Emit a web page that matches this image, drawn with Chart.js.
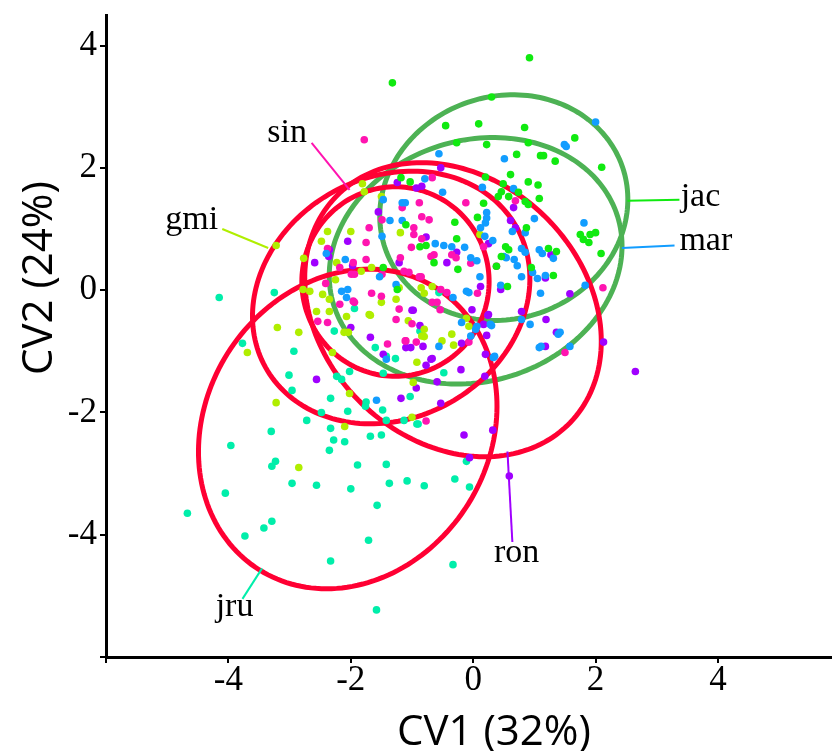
<!DOCTYPE html>
<html>
<head>
<meta charset="utf-8">
<script src="https://cdn.jsdelivr.net/npm/chart.js@4.4.1/dist/chart.umd.min.js"></script>
<style>
  html, body { margin: 0; padding: 0; background: #fff; }
  #wrap { width: 835px; height: 751px; }
</style>
</head>
<body>
<div id="wrap"><canvas id="cvaChart" width="835" height="751"></canvas></div>
<script>
// canonical variate scores, [CV1, CV2] per specimen
const jacPoints = [
  [-1.32,3.39],[0.92,3.8],[0.3,3.16],[-0.45,2.69],[0.09,2.72],[0.84,2.66],[-0.27,2.41],[0.22,2.38],
  [0.9,2.41],[1.66,2.49],[0.71,2.22],[1.1,2.2],[1.15,2.2],[1.34,2.11],[2.1,2.01],[0.2,1.85],
  [0.61,1.89],[0.49,1.74],[0.9,1.77],[1.06,1.72],[0.46,1.61],[0.41,1.53],[0.58,1.53],[0.74,1.6],
  [1.08,1.5],[0.85,1.45],[0.9,1.4],[0.17,1.42],[-0.3,1.11],[0.07,1.19],[0.87,1.02],[1.75,0.91],
  [1.8,0.83],[1.91,0.91],[2.0,0.94],[1.89,0.78],[2.09,0.6],[-0.27,0.84],[0.53,0.71],[0.58,0.66],
  [0.46,0.55],[0.38,0.39],[1.23,0.68],[1.36,0.63],[1.31,0.24],[0.95,0.37],[0.56,0.06],[-0.87,0.71],
  [-0.64,0.45],[-0.25,0.34],[-1.18,1.84],[-1.03,1.77],[-1.1,1.07],[-1.47,0.37],[-0.77,0.73],[-1.24,0.01]
];
const marPoints = [
  [2.0,2.75],[1.49,2.38],[1.52,2.35],[-0.56,2.23],[0.51,2.15],[0.15,1.68],[-0.5,1.6],[0.66,1.66],
  [0.22,1.27],[0.22,1.18],[0.2,1.1],[1.0,1.17],[1.81,1.1],[0.64,0.96],[0.85,0.94],[0.12,1.02],
  [0.19,0.88],[0.32,0.81],[-0.35,0.71],[-0.48,0.73],[-0.62,0.76],[-0.14,0.7],[-0.04,0.53],[0.06,0.48],
  [0.5,0.55],[0.54,0.53],[0.67,0.5],[0.79,0.68],[0.85,0.62],[1.08,0.66],[1.13,0.6],[1.31,0.52],
  [0.72,0.4],[0.97,0.29],[1.05,0.19],[1.18,0.24],[0.79,0.22],[0.11,0.22],[-0.11,-0.02],[-0.07,-0.04],
  [0.45,0.08],[1.1,-0.05],[1.83,0.08],[-0.79,1.82],[1.08,-0.94],[1.11,-0.92],[1.58,-0.92],[1.42,-0.69],
  [1.39,-0.72],[0.93,-0.56],[0.79,-0.48],[0.28,-0.56],[0.06,-0.59],[-0.19,-0.53],[-0.56,-0.92],[0.33,-1.1],
  [-0.33,-0.12],[0.04,-0.64],[0.3,-0.58],[-0.04,-0.75],[0.35,-1.08],[-1.47,1.48],[-1.16,1.43],[-1.11,1.43],
  [-1.36,1.14],[-1.16,1.14],[-1.49,0.88],[-2.4,0.6],[-2.09,0.5],[-1.53,0.22],[-1.26,0.09],[-2.15,-0.02],
  [-2.05,0.01],[-2.07,-0.12],[-1.42,-1.13],[-1.58,-1.8]
];
const sinPoints = [
  [-1.78,2.46],[-1.49,1.15],[-1.16,1.35],[-0.88,1.43],[-0.84,1.2],[-1.7,1.02],[-1.75,0.78],[-1.01,0.7],
  [-0.97,1.02],[-0.97,0.91],[-0.84,0.84],[-1.75,0.5],[-1.96,0.45],[-2.18,0.37],[-1.99,0.26],[-1.94,0.26],
  [-1.49,0.26],[-1.19,0.53],[-1.13,0.31],[-1.05,0.29],[-0.88,0.22],[-2.41,0.11],[-1.94,-0.2],[-1.66,-0.05],
  [-2.18,-0.23],[-1.21,-0.31],[-1.26,-0.48],[-2.54,-0.51],[-2.38,-0.53],[-1.4,-0.88],[-1.1,-0.83],[-2.38,0.68],
  [-1.96,-0.18],[-1.11,-0.83],[-0.93,-0.85],[-0.77,-2.14],[-0.67,1.84],[-0.12,1.43],[0.69,1.46],[-0.72,1.15],
  [0.17,0.71],[-0.04,0.44],[-0.28,0.53],[-0.35,0.58],[-0.64,0.58],[-0.69,0.55],[0.38,0.39],[0.07,-0.05],
  [-0.85,0.22],[-0.53,0.01],[-0.43,-0.04],[-0.67,-0.2],[-0.59,-0.2],[2.12,0.04],[1.5,-1.02],[-0.54,-0.32],
  [-0.07,-0.85],[-1.5,-0.1],[-1.0,-0.55]
];
const gmiPoints = [
  [-1.81,1.74],[-1.78,1.61],[-1.5,1.53],[-1.19,0.94],[-2.0,0.96],[-2.38,0.96],[-2.48,0.8],[-3.22,0.73],
  [-2.77,0.52],[-2.23,0.45],[-1.83,0.31],[-1.66,0.37],[-2.78,0.01],[-2.67,-0.02],[-2.25,0.17],[-2.46,-0.07],
  [-1.7,-0.4],[-2.56,-0.35],[-2.35,-0.35],[-3.2,-0.61],[-2.85,-0.69],[-2.3,-1.02],[-3.69,-1.02],[-2.11,-0.69],
  [-2.04,-0.69],[-0.8,-0.05],[-2.35,-0.15],[-1.68,-0.41],[-2.07,-0.43],[-3.22,-1.84],[-2.02,-1.69],[-2.1,-2.23],
  [-2.85,-2.9],[-0.92,-1.18],[-1.0,-2.08],[-0.98,-1.51],[-0.8,-0.76],[-1.06,-0.5],[-0.11,-0.46],[-0.07,-0.59],
  [-0.35,-0.72],[-0.51,-0.83],[-0.32,-0.9],[-0.8,-0.64],[-0.84,-0.75],[0.11,0.91],[-0.85,0.04],[-0.67,0.06],
  [-1.26,-0.15],[-1.5,-0.2],[-1.21,0.04]
];
const ronPoints = [
  [-1.24,1.76],[-1.55,1.28],[-2.05,0.8],[-2.35,0.66],[-2.36,0.55],[-2.59,0.45],[-2.0,-0.61],[-1.68,-0.77],
  [-1.21,0.45],[-0.98,-0.33],[-0.93,1.67],[-0.84,1.7],[-1.97,0.4],[-0.77,0.87],[-0.53,2.0],[0.66,1.35],
  [0.61,1.14],[0.69,1.02],[-0.43,0.45],[-0.27,0.62],[0.25,0.76],[1.27,0.58],[0.45,0.01],[0.12,0.06],
  [1.58,-0.06],[1.18,0.2],[0.79,-0.35],[1.19,-0.48],[0.25,-0.4],[1.36,-0.69],[1.18,-0.92],[2.13,-0.85],
  [2.65,-1.33],[-0.2,-1.3],[0.19,-1.41],[-0.69,-1.13],[-0.02,-0.32],[0.24,-0.41],[0.17,-0.56],[0.22,-0.74],
  [-0.19,-0.87],[0.2,-1.05],[-0.82,-0.92],[-0.67,-1.12],[-0.77,-1.23],[-0.59,-1.5],[-0.53,-1.85],[-0.15,-2.37],
  [0.32,-2.29],[-0.06,-2.74],[0.59,-3.04],[-2.56,-1.46],[-1.18,-1.77],[-0.93,-1.6],[-0.87,-0.58],[-1.0,-0.33],
  [-1.1,-0.94],[-1.02,-0.94],[-1.47,-1.05]
];
const jruPoints = [
  [-3.01,-1.39],[-2.96,-1.64],[-2.23,-1.41],[-2.15,-1.46],[-2.02,-1.33],[-2.33,-1.77],[-2.48,-2.0],[-2.72,-2.13],
  [-2.05,-1.98],[-1.75,-1.83],[-1.76,-1.9],[-1.48,-1.96],[-1.42,-2.13],[-1.47,-1.36],[-1.13,-2.13],[-1.03,-1.74],
  [-0.92,-2.19],[-3.3,-2.31],[-3.96,-2.54],[-2.33,-2.26],[-2.28,-2.45],[-2.1,-2.48],[-2.35,-2.62],[-1.68,-2.39],
  [-1.5,-2.37],[-3.23,-2.8],[-3.29,-2.88],[-2.96,-3.16],[-2.56,-3.19],[-2.0,-3.25],[-1.89,-2.86],[-1.42,-2.85],
  [-1.37,-3.16],[-1.08,-3.12],[-4.05,-3.32],[-4.67,-3.65],[-3.73,-4.02],[-3.42,-3.89],[-3.29,-3.78],[-1.57,-3.52],
  [-1.71,-4.09],[-2.33,-4.43],[-1.58,-5.23],[-0.48,-1.35],[-0.9,-2.19],[-0.11,-2.8],[-0.8,-3.2],[-0.3,-3.09],
  [-0.06,-3.22],[-0.33,-4.49],[-3.77,-0.87],[-2.93,-1.0],[-0.87,-0.67],[-1.6,-0.94],[-1.27,-1.12],[-2.27,-0.67],
  [-1.94,-0.3],[-3.25,-0.04],[-4.15,-0.12],[-1.42,-1.08],[-0.56,-0.04]
];

// 95% ellipses: centre, semi-axes and tilt (degrees)
const ellipseGroups = ['jac', 'mar', 'sin', 'gmi', 'ron', 'jru'];
const ellipseCx = [0.5, 0.04, -1.27, -1.34, -0.33, -2.05];
const ellipseCy = [1.35, 0.48, 0.14, -0.12, -0.32, -2.27];
const ellipseA = [2.05, 2.43, 1.53, 2.35, 2.66, 2.72];
const ellipseB = [1.82, 1.97, 1.55, 1.97, 2.14, 2.32];
const ellipseAngle = [19, 17.5, 0, 29, -44, 58];

const xTicks = [-6, -4, -2, 0, 2, 4];
const yTicks = [-6, -4, -2, 0, 2, 4];

const groupColors = {
  jac: '#10ea10', mar: '#129dff', sin: '#ff14b0',
  gmi: '#b0ee00', ron: '#a000ff', jru: '#00eeaa'
};
const ellipseColors = { jac: '#4db254', mar: '#4db254' };
const redEllipse = '#ff0033';

// name label, where it sits, and the leader line from the ellipse to it
const tags = [
  { name: 'sin', x: -3.04, y: 2.43, align: 'center', from: [-2.02, 1.64], to: [-2.64, 2.41] },
  { name: 'gmi', x: -4.6, y: 1.0, align: 'center', from: [-3.35, 0.69], to: [-4.1, 1.0] },
  { name: 'jac', x: 3.39, y: 1.38, align: 'left', from: [2.52, 1.46], to: [3.37, 1.48] },
  { name: 'mar', x: 3.37, y: 0.66, align: 'left', from: [2.43, 0.69], to: [3.29, 0.73] },
  { name: 'ron', x: 0.71, y: -4.45, align: 'center', from: [0.56, -2.64], to: [0.64, -4.12] },
  { name: 'jru', x: -3.9, y: -5.33, align: 'center', from: [-3.45, -4.55], to: [-3.77, -5.05] }
];

const series = { jac: jacPoints, mar: marPoints, sin: sinPoints, gmi: gmiPoints, ron: ronPoints, jru: jruPoints };

const datasets = Object.keys(series).map(k => ({
  label: k,
  data: series[k].map(p => ({ x: p[0], y: p[1] })),
  backgroundColor: groupColors[k],
  borderWidth: 0,
  pointRadius: 3.8,
  pointHoverRadius: 3.8
}));

const ellipsePlugin = {
  id: 'ellipses',
  beforeDatasetsDraw(chart) {
    const { ctx, chartArea, scales: { x, y } } = chart;
    ctx.save();
    ctx.beginPath();
    ctx.rect(chartArea.left, chartArea.top, chartArea.right - chartArea.left, chartArea.bottom - chartArea.top);
    ctx.clip();
    ctx.lineWidth = 5;
    ellipseGroups.forEach((g, i) => {
      const rot = ellipseAngle[i] * Math.PI / 180;
      const cr = Math.cos(rot), sr = Math.sin(rot);
      ctx.beginPath();
      for (let s = 0; s <= 180; s++) {
        const t = s / 180 * Math.PI * 2;
        const u = ellipseA[i] * Math.cos(t), v = ellipseB[i] * Math.sin(t);
        const px = x.getPixelForValue(ellipseCx[i] + u * cr - v * sr);
        const py = y.getPixelForValue(ellipseCy[i] + u * sr + v * cr);
        if (s === 0) ctx.moveTo(px, py); else ctx.lineTo(px, py);
      }
      ctx.closePath();
      ctx.strokeStyle = ellipseColors[g] || redEllipse;
      ctx.stroke();
    });
    ctx.restore();
  }
};

const tagPlugin = {
  id: 'tags',
  afterDatasetsDraw(chart) {
    const { ctx, scales: { x, y } } = chart;
    ctx.save();
    ctx.lineWidth = 2;
    tags.forEach(t => {
      ctx.strokeStyle = groupColors[t.name];
      ctx.beginPath();
      ctx.moveTo(x.getPixelForValue(t.from[0]), y.getPixelForValue(t.from[1]));
      ctx.lineTo(x.getPixelForValue(t.to[0]), y.getPixelForValue(t.to[1]));
      ctx.stroke();
    });
    ctx.fillStyle = '#000';
    ctx.font = '34px "Liberation Serif", "Times New Roman", serif';
    ctx.textBaseline = 'alphabetic';
    tags.forEach(t => {
      ctx.textAlign = t.align;
      ctx.fillText(t.name, x.getPixelForValue(t.x), y.getPixelForValue(t.y));
    });
    ctx.restore();
  },
  afterDraw(chart) {
    const { ctx, chartArea } = chart;
    ctx.save();
    ctx.fillStyle = '#000';
    ctx.font = '42px "Open Sans", sans-serif';
    ctx.textAlign = 'center';
    ctx.textBaseline = 'alphabetic';
    ctx.fillText('CV1 (32%)', chartArea.left + 388, chartArea.bottom + 88);
    ctx.translate(chartArea.left - 54, chartArea.top + 263);
    ctx.rotate(-Math.PI / 2);
    ctx.fillText('CV2 (24%)', 0, 0);
    ctx.restore();
  }
};

const axisCommon = {
  type: 'linear',
  border: { display: true, color: '#000', width: 3 },
  grid: { display: true, drawOnChartArea: false, drawTicks: true, tickLength: 6, color: '#000', lineWidth: 2 }
};

new Chart(document.getElementById('cvaChart'), {
  type: 'scatter',
  data: { datasets },
  options: {
    responsive: false,
    animation: false,
    events: [],
    layout: { padding: { top: 15, right: 0, bottom: 0, left: 0 } },
    plugins: { legend: { display: false }, tooltip: { enabled: false } },
    scales: {
      x: {
        ...axisCommon,
        min: -6, max: 5.85,
        afterBuildTicks(s) { s.ticks = xTicks.map(v => ({ value: v })); },
        afterFit(s) { s.height = 94; s.paddingLeft = 0; s.paddingRight = 0; },
        ticks: {
          color: '#000', padding: 0, autoSkip: false, maxRotation: 0,
          font: { family: '"Liberation Serif", "Times New Roman", serif', size: 35, lineHeight: 1 },
          callback: v => (v === -6 ? '' : String(v))
        }
      },
      y: {
        ...axisCommon,
        min: -6, max: 4.5,
        afterBuildTicks(s) { s.ticks = yTicks.map(v => ({ value: v })); },
        afterFit(s) { s.width = 106; s.paddingTop = 0; s.paddingBottom = 0; },
        ticks: {
          color: '#000', padding: 3, autoSkip: false,
          font: { family: '"Liberation Serif", "Times New Roman", serif', size: 35, lineHeight: 1 },
          callback: v => (v === -6 ? '' : String(v))
        }
      }
    }
  },
  plugins: [ellipsePlugin, tagPlugin]
});
</script>
</body>
</html>
